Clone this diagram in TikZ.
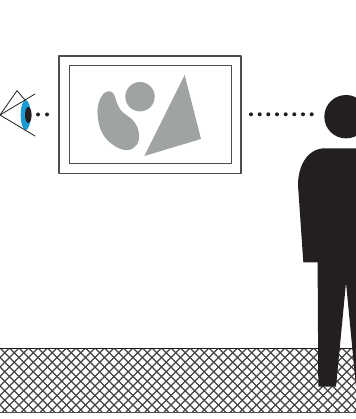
\documentclass[tikz,border=0pt]{standalone}
\definecolor{inkblack}{HTML}{231F20}
\definecolor{shapegray}{HTML}{A0A3A3}
\definecolor{irisblue}{HTML}{1B9AD6}
\begin{document}
\begin{tikzpicture}[x=1pt, y=-1pt, line cap=round, line join=round]
    \useasboundingbox (0,0) rectangle (355,419);
    % ground
    \begin{scope}
      \clip (-1,348) rectangle (356,412);
      \foreach \k in {-66.5,-57,...,428} \draw[inkblack!85,line width=1.2] (\k,348) -- (\k+64,412) (\k,348) -- (\k-64,412);
    \end{scope}
    \draw[inkblack,line width=0.9] (-1,348) -- (356,348);
    \draw[inkblack!80,line width=1] (-1,412.3) -- (356,412.3);
    % frame
    \draw[inkblack!80,line width=1.3] (59,56) rectangle (241,173.5);
    \draw[inkblack!80,line width=1] (69.7,66) rectangle (231,163.5);
    \fill[shapegray] (140,96.7) circle (14.7);
    \fill[shapegray] (184.7,75) -- (201,139) -- (144.3,156) -- cycle;
    \fill[shapegray] (106,92) .. controls (100,95) and (97,106) .. (97.5,113)
      .. controls (98,123) and (100,130) .. (104,136)
      .. controls (110,144) and (120,151) .. (128,150)
      .. controls (136,149) and (140,142) .. (139,134)
      .. controls (138,125) and (133,119) .. (127,115.5)
      .. controls (121,112) and (118,107) .. (116,100)
      .. controls (114.5,93) and (111,89.5) .. (106,92) -- cycle;
    % eye
    \fill[irisblue] (25.7,115) ellipse (5 and 15);
    \fill[inkblack] (28.3,115) ellipse (3.3 and 8);
    \draw[inkblack,line width=0.8] (35,94) -- (0,115) -- (35,136);
    \draw[inkblack,line width=0.8] (0,115) -- (17,90.7) -- (25,100);
    % sight lines
    \foreach \x in {38,47} \fill[inkblack] (\x,114.5) circle (2);
    \foreach \x in {251,259.7,268.3,277,285.7,294.3,303,311.7} \fill[inkblack] (\x,114.3) circle (2);
    % person
    \fill[inkblack] (346,116.7) circle (21.7);
    \fill[inkblack] (356,148.3) -- (325,148.3) .. controls (308,148.3) and (298,165) .. (298,185)
      -- (303.3,262.3) -- (317.6,262.3) -- (318.3,386.7) -- (336,386.7) -- (346,282.7) -- (356,386.7) -- cycle;
\end{tikzpicture}
\end{document}
